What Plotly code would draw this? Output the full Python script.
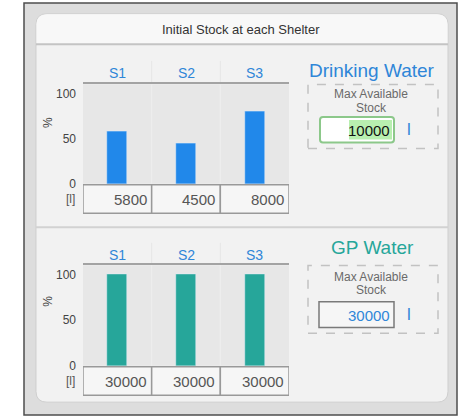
import plotly.graph_objects as go

W, H = 459, 418

# ---- data ----
shelters = ["S1", "S2", "S3"]
drinking_stock = [5800, 4500, 8000]
drinking_max = 10000
gp_stock = [30000, 30000, 30000]
gp_max = 30000
pct_ticks = [0, 50, 100]
title_text = "Initial Stock at each Shelter"
panel_titles = ["Drinking Water", "GP Water"]
unit_label = "[l]"
stock_label = ["Max Available", "Stock"]

BLUE = "#2188ea"
TEAL = "#26a69a"
LBLUE = "#2f86d8"
FONT = "Liberation Sans, Arial, sans-serif"


def px(x):
    return x / W


def py(y):
    return 1 - y / H


def rrect(x0, y0, x1, y1, r, top_only=False):
    def P(x, y):
        return f"{px(x):.5f},{py(y):.5f}"
    if top_only:
        return (f"M {P(x0, y1)} L {P(x0, y0 + r)} Q {P(x0, y0)} {P(x0 + r, y0)} "
                f"L {P(x1 - r, y0)} Q {P(x1, y0)} {P(x1, y0 + r)} L {P(x1, y1)} Z")
    return (f"M {P(x0 + r, y0)} L {P(x1 - r, y0)} Q {P(x1, y0)} {P(x1, y0 + r)} "
            f"L {P(x1, y1 - r)} Q {P(x1, y1)} {P(x1 - r, y1)} L {P(x0 + r, y1)} "
            f"Q {P(x0, y1)} {P(x0, y1 - r)} L {P(x0, y0 + r)} Q {P(x0, y0)} {P(x0 + r, y0)} Z")


def ann(text, x, y, size, color, xanchor="center", yanchor="middle", **kw):
    d = dict(text=text, xref="paper", yref="paper", x=px(x), y=py(y),
             xanchor=xanchor, yanchor=yanchor, showarrow=False,
             font=dict(size=size, color=color, family=FONT))
    d.update(kw)
    return d


drink_pct = [v / drinking_max * 100 for v in drinking_stock]
gp_pct = [v / gp_max * 100 for v in gp_stock]

fig = go.Figure()
fig.add_trace(go.Bar(x=shelters, y=drink_pct, marker_color=BLUE, width=0.29,
                     xaxis="x", yaxis="y", hoverinfo="skip"))
fig.add_trace(go.Bar(x=shelters, y=gp_pct, marker_color=TEAL, width=0.29,
                     xaxis="x2", yaxis="y2", hoverinfo="skip"))

PL, PR = 83, 289
charts = [
    dict(zero=187, k=0.92, head=62, tbot=217, xa="x", ya="y",
         vals=drinking_stock, mid=125, title_y=72, s_y=74,
         box=(308, 86, 438, 151), inp=(320, 119, 394, 145), inp_y=132,
         lab_y=(96, 109.5), maxval=drinking_max, active=True),
    dict(zero=372, k=0.93, head=247, tbot=402, xa="x2", ya="y2",
         vals=gp_stock, mid=307, title_y=252, s_y=259,
         box=(308, 270, 438, 339), inp=(319, 307, 394, 333), inp_y=320,
         lab_y=(281.5, 295), maxval=gp_max, active=False),
]

YMAX = 110
shapes = []
annotations = []

# outer frame
shapes.append(dict(type="rect", xref="paper", yref="paper", layer="below",
                   x0=px(24), x1=px(457), y0=py(3), y1=py(422),
                   fillcolor="#dddddd", line=dict(color="#4d4d4d", width=1.5)))
# panel
shapes.append(dict(type="path", xref="paper", yref="paper", layer="below",
                   path=rrect(36, 14, 448, 409, 11),
                   fillcolor="#f2f2f2", line=dict(color="#cfcfcf", width=1)))
shapes.append(dict(type="path", xref="paper", yref="paper", layer="below",
                   path=rrect(36.5, 14.5, 447.5, 45, 11, top_only=True),
                   fillcolor="#f8f8f8", line=dict(width=0)))
shapes.append(dict(type="line", xref="paper", yref="paper", layer="below",
                   x0=px(36), x1=px(448), y0=py(45), y1=py(45),
                   line=dict(color="#c4c4c4", width=2)))
shapes.append(dict(type="line", xref="paper", yref="paper", layer="below",
                   x0=px(36), x1=px(448), y0=py(231), y1=py(231),
                   line=dict(color="#d2d2d2", width=2)))

annotations.append(ann(title_text, 241, 30, 13, "#333333"))

layout_axes = {}
for ci, c in enumerate(charts):
    top = c["zero"] - YMAX * c["k"]
    xa_name = "xaxis" if ci == 0 else "xaxis2"
    ya_name = "yaxis" if ci == 0 else "yaxis2"
    layout_axes[xa_name] = dict(domain=[px(PL), px(PR)], anchor=c["ya"], side="top",
                                type="category", range=[-0.5, 2.5],
                                showline=True, linecolor="#a3a3a3", linewidth=2,
                                ticks="", showgrid=False, zeroline=False,
                                showticklabels=False, fixedrange=True)
    layout_axes[ya_name] = dict(domain=[py(c["zero"]), py(top)], anchor=c["xa"],
                                range=[0, YMAX], tickvals=pct_ticks,
                                ticks="", showgrid=False, zeroline=False, showline=False,
                                tickfont=dict(size=12, color="#444444", family=FONT),
                                ticklabelstandoff=6, fixedrange=True)
    # column header labels placed on the category axis
    for s in shelters:
        annotations.append(dict(text=s, xref=c["xa"], yref="paper", x=s,
                                y=py(c["s_y"]), xanchor="center", yanchor="middle",
                                showarrow=False,
                                font=dict(size=14, color=LBLUE, family=FONT)))
    # plot bg
    shapes.append(dict(type="rect", xref="paper", yref="paper", layer="below",
                       x0=px(PL), x1=px(PR), y0=py(c["zero"]), y1=py(top),
                       fillcolor="#e7e7e7", line=dict(width=0)))
    for b in (0.5, 1.5):
        shapes.append(dict(type="line", xref=c["xa"], yref="paper", layer="below",
                           x0=b, x1=b, y0=py(top), y1=py(c["head"]),
                           line=dict(color="#e6e6e6", width=1)))
        shapes.append(dict(type="line", xref=c["xa"], yref="paper", layer="below",
                           x0=b, x1=b, y0=py(c["zero"]), y1=py(top),
                           line=dict(color="#efefef", width=1)))
    # value table
    for i, v in enumerate(c["vals"]):
        shapes.append(dict(type="rect", xref=c["xa"], yref="paper", layer="above",
                           x0=i - 0.5, x1=i + 0.5, y0=py(c["tbot"]), y1=py(c["zero"] + 1),
                           fillcolor="#f6f6f6", line=dict(color="#999999", width=1.5)))
        annotations.append(dict(text=str(v), xref=c["xa"], yref="paper",
                                x=i + 0.5, xanchor="right", xshift=-3,
                                y=py((c["zero"] + c["tbot"]) / 2 + 1), yanchor="middle",
                                showarrow=False,
                                font=dict(size=15, color="#555555", family=FONT)))
    annotations.append(ann(unit_label, 70, (c["zero"] + c["tbot"]) / 2, 12, "#555555"))
    annotations.append(ann("%", 48, c["mid"], 12, "#444444", textangle=-90))
    # right side panel
    annotations.append(ann(panel_titles[ci], 372, c["title_y"], 19,
                           TEAL if ci == 1 else LBLUE))
    bx0, by0, bx1, by1 = c["box"]
    shapes.append(dict(type="rect", xref="paper", yref="paper", layer="below",
                       x0=px(bx0), x1=px(bx1), y0=py(by1), y1=py(by0),
                       fillcolor="rgba(0,0,0,0)",
                       line=dict(color="#c2c2c2", width=1.5, dash="dash")))
    for t, ly in zip(stock_label, c["lab_y"]):
        annotations.append(ann(t, 371, ly, 12, "#6a6a6a"))
    ix0, iy0, ix1, iy1 = c["inp"]
    if c["active"]:
        shapes.append(dict(type="path", xref="paper", yref="paper", layer="below",
                           path=rrect(ix0, iy0, ix1, iy1, 3),
                           fillcolor="#ffffff", line=dict(color="#8cc88a", width=2)))
        shapes.append(dict(type="rect", xref="paper", yref="paper", layer="below",
                           x0=px(349), x1=px(ix1 - 2), y0=py(iy1 - 3), y1=py(iy0 + 3),
                           fillcolor="#b8efb0", line=dict(width=0)))
        vcol = "#111111"
    else:
        shapes.append(dict(type="rect", xref="paper", yref="paper", layer="below",
                           x0=px(ix0), x1=px(ix1), y0=py(iy1), y1=py(iy0),
                           fillcolor="#f6f6f6", line=dict(color="#7a7a7a", width=1.5)))
        vcol = LBLUE
    annotations.append(ann(str(c["maxval"]), ix1 - 2, (iy0 + iy1) / 2 + 1, 15, vcol,
                           xanchor="right"))
    annotations.append(ann("l", 409, c["inp_y"], 17, LBLUE))

fig.update_layout(
    width=W, height=H, margin=dict(l=0, r=0, t=0, b=0, pad=0),
    paper_bgcolor="#ffffff", plot_bgcolor="rgba(0,0,0,0)",
    showlegend=False, bargap=0,
    font=dict(family=FONT),
    shapes=shapes, annotations=annotations,
    **layout_axes,
)

fig.write_html("out.html", config={"displayModeBar": False},
               post_script="document.body.style.margin='0';")
